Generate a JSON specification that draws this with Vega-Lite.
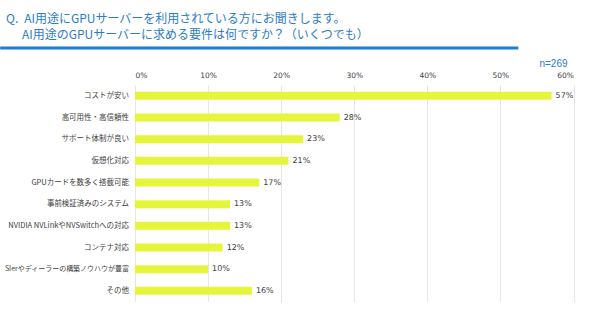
{
  "$schema": "https://vega.github.io/schema/vega-lite/v6.json",
  "autosize": {"type": "none"},
  "padding": {"left": 135, "top": 85, "right": 16.5, "bottom": 30},
  "width": 438.5,
  "height": 216.7,
  "background": "white",
  "config": {"view": {"stroke": null}},
  "title": {
    "text": ["Q.\u2002AI用途にGPUサーバーを利用されている方にお聞きします。", "\u200b\u3000\u2004AI用途のGPUサーバーに求める要件は何ですか？（いくつでも）"],
    "anchor": "start",
    "frame": "group",
    "dx": -129,
    "dy": 16,
    "baseline": "bottom",
    "fontSize": 12,
    "font": "Noto Sans CJK JP",
    "fontWeight": "normal",
    "color": "#2a7cc9",
    "lineHeight": 16.5,
    "offset": 8
  },
  "datasets": {
    "answers": [
      {"item": "コストが安い", "share": 0.57},
      {"item": "高可用性・高信頼性", "share": 0.28},
      {"item": "サポート体制が良い", "share": 0.23},
      {"item": "仮想化対応", "share": 0.21},
      {"item": "GPUカードを数多く搭載可能", "share": 0.17},
      {"item": "事前検証済みのシステム", "share": 0.13},
      {"item": "NVIDIA NVLinkやNVSwitchへの対応", "share": 0.13},
      {"item": "コンテナ対応", "share": 0.12},
      {"item": "SIerやディーラーの構築ノウハウが豊富", "share": 0.10},
      {"item": "その他", "share": 0.16}
    ],
    "divider": [
      {"start": -0.1845, "end": 0.5245, "level": 1.1707}
    ]
  },
  "resolve": {"scale": {"y": "independent"}, "axis": {"y": "independent"}},
  "layer": [
    {
      "data": {"name": "answers"},
      "encoding": {
        "y": {
          "field": "item", "type": "nominal", "sort": null,
          "scale": {"paddingInner": 0.63, "paddingOuter": 0.315},
          "axis": {
            "title": null,
            "ticks": false, "domain": false, "grid": false,
            "labelFont": "Noto Sans CJK JP",
            "labelFontSize": {"condition": {"test": "indexof(datum.label, 'SIer') >= 0", "value": 7}, "value": 7.5},
            "labelColor": "#404040",
            "labelPadding": 6.5, "labelLimit": 200
          }
        },
        "x": {
          "field": "share", "type": "quantitative",
          "scale": {"domain": [0, 0.6]},
          "axis": {
            "orient": "top", "format": ".0%", "values": [0, 0.1, 0.2, 0.3, 0.4, 0.5, 0.6],
            "labelOverlap": false,
            "ticks": false, "domain": false, "grid": true, "gridColor": "#e6e6e6", "gridWidth": 1,
            "labelFont": "DejaVu Sans", "labelFontSize": 7.5, "labelColor": "#404040", "labelPadding": 5.5,
            "title": "n=269", "titleAnchor": "end", "titleX": 432, "titleAlign": "right",
            "titleFont": "Liberation Sans", "titleFontSize": 10, "titleFontWeight": "normal",
            "titleColor": "#2a7cc9", "titlePadding": 2.5
          }
        }
      },
      "layer": [
        {"mark": {"type": "bar", "color": "#e5f53c"}},
        {
          "mark": {"type": "text", "align": "left", "baseline": "middle", "dx": 4, "font": "DejaVu Sans", "fontSize": 8, "color": "#404040"},
          "encoding": {"text": {"field": "share", "type": "quantitative", "format": ".0%"}}
        }
      ]
    },
    {
      "data": {"name": "divider"},
      "mark": {"type": "rule", "color": "#1a7fd6", "strokeWidth": 3, "clip": false},
      "encoding": {
        "x": {"field": "start", "type": "quantitative"},
        "x2": {"field": "end"},
        "y": {"field": "level", "type": "quantitative", "scale": {"domain": [0, 1]}, "axis": null}
      }
    }
  ]
}
